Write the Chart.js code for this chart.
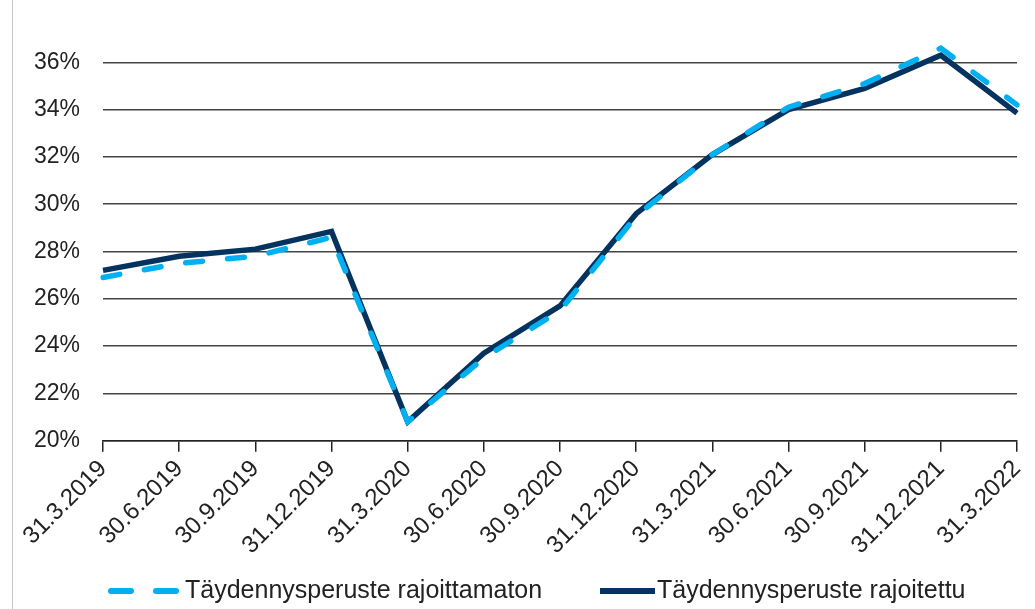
<!DOCTYPE html>
<html>
<head>
<meta charset="utf-8">
<script src="https://cdn.jsdelivr.net/npm/chart.js@4"></script>
<style>
  html, body { margin: 0; padding: 0; background: #fff; }
  #wrap { width: 1035px; height: 609px; position: relative; }
  #wrap::before { content: ""; position: absolute; left: 12px; top: 0; bottom: 0; width: 1px; background: #c8c8c8; }
</style>
</head>
<body>
<div id="wrap"><canvas id="chart"></canvas></div>
<script>
const dates = ["31.3.2019", "30.6.2019", "30.9.2019", "31.12.2019", "31.3.2020", "30.6.2020", "30.9.2020",
    "31.12.2020", "31.3.2021", "30.6.2021", "30.9.2021", "31.12.2021", "31.3.2022"];
const unrestricted = [26.9, 27.5, 27.8, 28.6, 20.8, 23.5, 25.5, 29.5, 32.1, 34.1, 35.1, 36.6, 34.2];
const restricted = [27.2, 27.8, 28.1, 28.85, 20.8, 23.7, 25.7, 29.6, 32.1, 34.0, 34.9, 36.3, 33.85];
const seriesNames = ["Täydennysperuste rajoittamaton", "Täydennysperuste rajoitettu"];

const font = "'Liberation Sans', Arial, sans-serif";
const dash = [17, 25];

// legend drawn by hand so the spacing can follow the original (Excel-like) layout
const bottomLegend = {
    id: 'bottomLegend',
    afterDraw(chart) {
        const ctx = chart.ctx;
        const y = 591;
        const spots = [
            { from: 111, to: 176, text: 185 },
            { from: 600, to: 655, text: 657 }
        ];
        ctx.save();
        ctx.font = '25px ' + font;
        ctx.textBaseline = 'middle';
        chart.data.datasets.forEach((ds, i) => {
            const s = spots[i];
            ctx.beginPath();
            ctx.lineWidth = 6;
            ctx.strokeStyle = ds.borderColor;
            ctx.lineCap = ds.borderCapStyle || 'butt';
            ctx.setLineDash(ds.borderDash ? [20, 25] : []);
            ctx.moveTo(s.from, y);
            ctx.lineTo(s.to, y);
            ctx.stroke();
            ctx.setLineDash([]);
            ctx.fillStyle = '#222';
            ctx.fillText(ds.label, s.text, y);
        });
        ctx.restore();
    }
};

let myChart = new Chart(
    document.getElementById('chart'),
    {
        type: 'line',
        data: {
            labels: dates,
            datasets: [
                {
                    label: seriesNames[0],
                    data: unrestricted,
                    borderColor: '#00B0F0',
                    backgroundColor: '#00B0F0',
                    borderWidth: 5.5,
                    borderDash: dash,
                    borderCapStyle: 'round',
                    pointRadius: 0,
                    tension: 0
                },
                {
                    label: seriesNames[1],
                    data: restricted,
                    borderColor: '#04335F',
                    backgroundColor: '#04335F',
                    borderWidth: 5.5,
                    pointRadius: 0,
                    tension: 0
                }
            ]
        },
        options: {
            responsive: true,
            maintainAspectRatio: false,
            animation: false,
            layout: { padding: { top: 15, right: 0, left: 11, bottom: 46 } },
            scales: {
                x: {
                    offset: false,
                    afterFit: (scale) => {
                        scale.paddingRight = 18;
                    },
                    grid: {
                        drawOnChartArea: false,
                        drawTicks: true,
                        tickLength: 11,
                        color: '#222',
                        lineWidth: 1.5
                    },
                    border: { color: '#222', width: 1.5 },
                    ticks: {
                        minRotation: 45,
                        maxRotation: 45,
                        autoSkip: false,
                        color: '#222',
                        padding: 3,
                        font: { family: font, size: 24 }
                    }
                },
                y: {
                    min: 20,
                    max: 38,
                    afterBuildTicks: (scale) => {
                        scale.ticks = scale.ticks.filter(t => t.value <= 36);
                    },
                    afterFit: (scale) => {
                        scale.paddingTop = 0;
                    },
                    grid: {
                        color: '#444',
                        lineWidth: 1.5,
                        drawTicks: false
                    },
                    border: { display: false },
                    ticks: {
                        stepSize: 2,
                        padding: 23,
                        color: '#222',
                        font: { family: font, size: 23 },
                        callback: (v) => v + '%'
                    }
                }
            },
            plugins: {
                legend: { display: false },
                tooltip: { enabled: false }
            }
        },
        plugins: [bottomLegend]
    }
);
</script>
</body>
</html>
